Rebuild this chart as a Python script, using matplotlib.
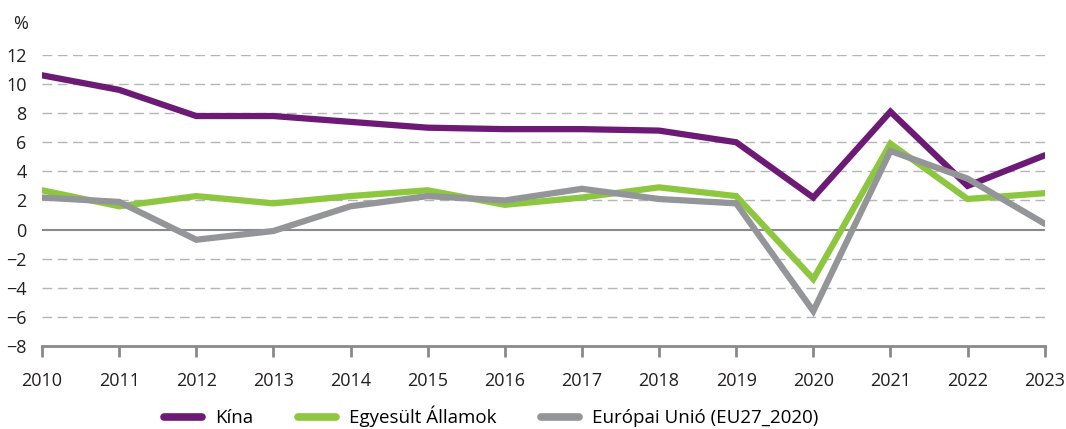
import matplotlib
matplotlib.use("Agg")
import matplotlib.pyplot as plt

years = list(range(2010, 2024))
china = [10.6, 9.6, 7.8, 7.8, 7.4, 7.0, 6.9, 6.9, 6.8, 6.0, 2.2, 8.1, 3.0, 5.1]
usa = [2.7, 1.6, 2.3, 1.8, 2.3, 2.7, 1.7, 2.2, 2.9, 2.3, -3.4, 5.9, 2.1, 2.5]
eu = [2.2, 1.9, -0.7, -0.1, 1.6, 2.3, 2.0, 2.8, 2.1, 1.8, -5.6, 5.4, 3.5, 0.4]
labels = ["Kína", "Egyesült Államok", "Európai Unió (EU27_2020)"]
yticks = list(range(-8, 13, 2))

plt.rcParams['font.family'] = ['Open Sans', 'DejaVu Sans']
fig = plt.figure(figsize=(10.66, 4.29), dpi=100)
ax = fig.add_axes([0.0394, 0.1935, 0.9406, 0.6785])

for y in yticks:
    if y == 0:
        ax.axhline(0, color='#8a8a8c', lw=1.5, zorder=1)
    elif y > -8:
        ax.axhline(y, color='#b5b5b5', lw=1.0, ls=(0, (7, 4)), zorder=1)

ax.plot(years, china, color='#6c1a76', lw=4.5, label=labels[0], zorder=3, solid_capstyle='round', solid_joinstyle='miter')
ax.plot(years, usa, color='#8dc63f', lw=4.5, label=labels[1], zorder=3, solid_capstyle='round', solid_joinstyle='miter')
ax.plot(years, eu, color='#939598', lw=4.5, label=labels[2], zorder=4, solid_capstyle='round', solid_joinstyle='miter')

ax.set_xlim(2010, 2023)
ax.set_ylim(-8, 12)
ax.set_yticks(yticks)
ax.set_yticklabels([str(v).replace('-', '\u2212') for v in yticks])
ax.set_xticks(years)
ax.set_xticklabels([str(y) for y in years])
for s in ['top', 'right', 'left']:
    ax.spines[s].set_visible(False)
ax.spines['bottom'].set_color('#8a8a8c')
ax.spines['bottom'].set_linewidth(2)
ax.tick_params(axis='y', length=0, labelsize=13, pad=11, colors='#231f20')
ax.tick_params(axis='x', length=8, width=2, color='#8a8a8c', labelsize=13, pad=11, labelcolor='#231f20')

fig.text(0.012, 0.945, '%', fontsize=13, color='#231f20', va='center')

leg = fig.legend(loc='lower center', bbox_to_anchor=(0.461, -0.035), ncol=3, frameon=False,
                 fontsize=13.5, handlelength=2.0, columnspacing=2.4, handletextpad=0.7)
for line in leg.get_lines():
    line.set_linewidth(5.5)
    line.set_solid_capstyle('round')

fig.savefig('out.png', dpi=100)
